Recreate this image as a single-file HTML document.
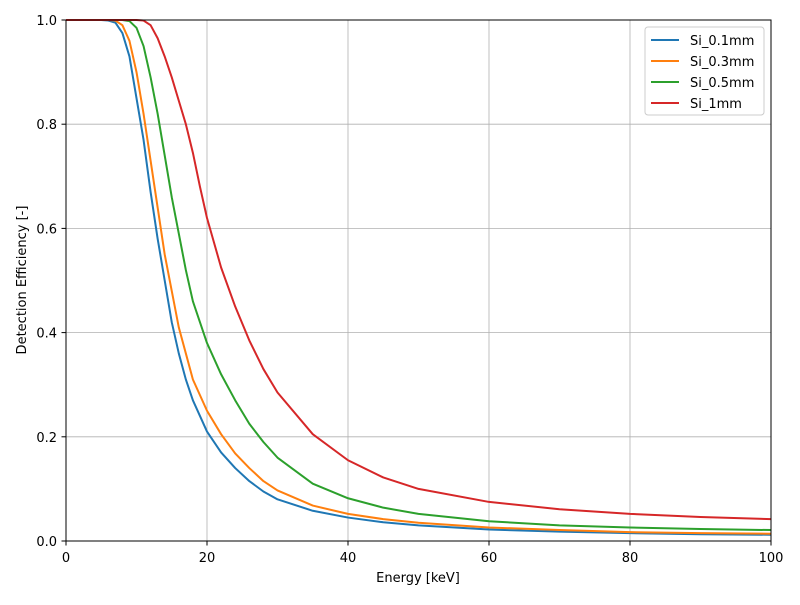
<!DOCTYPE html>
<html><head><meta charset="utf-8"><style>
body{margin:0;background:#fff;}
svg text{font-family:"DejaVu Sans","Liberation Sans",sans-serif;font-size:13px;fill:#000;}
</style></head><body>
<svg id="chart" width="800" height="600" xmlns="http://www.w3.org/2000/svg">
<rect width="800" height="600" fill="#fff"/>
<g id="grid"></g>
<g id="series"></g>
<rect x="66" y="20" width="705" height="521" fill="none" stroke="#000" stroke-width="1"/>
<g id="ticks"></g>
<text x="418" y="582" text-anchor="middle">Energy [keV]</text>
<text transform="translate(26,280) rotate(-90)" text-anchor="middle">Detection Efficiency [-]</text>
<g id="legend"></g>
</svg>
<script>
const energies=[0,5,6,7,8,9,10,11,12,13,14,15,16,17,18,19,20,22,24,26,28,30,35,40,45,50,60,70,80,90,100];
const si01=[1,1,0.999,0.995,0.975,0.93,0.85,0.77,0.67,0.58,0.5,0.42,0.36,0.31,0.27,0.24,0.21,0.17,0.14,0.115,0.095,0.08,0.058,0.045,0.036,0.03,0.022,0.018,0.015,0.013,0.012];
const si03=[1,1,1,0.999,0.99,0.96,0.9,0.82,0.73,0.64,0.55,0.48,0.41,0.36,0.31,0.28,0.25,0.205,0.168,0.14,0.115,0.097,0.068,0.052,0.042,0.035,0.026,0.021,0.017,0.015,0.014];
const si05=[1,1,1,1,1,0.998,0.985,0.95,0.89,0.82,0.74,0.66,0.59,0.52,0.46,0.42,0.38,0.32,0.27,0.225,0.19,0.16,0.11,0.082,0.064,0.052,0.038,0.03,0.026,0.023,0.021];
const si1=[1,1,1,1,1,1,1,0.999,0.99,0.965,0.93,0.89,0.845,0.8,0.745,0.68,0.62,0.525,0.45,0.385,0.33,0.285,0.205,0.155,0.122,0.1,0.075,0.061,0.052,0.046,0.042];
const seriesNames=["Si_0.1mm","Si_0.3mm","Si_0.5mm","Si_1mm"];
const xTicks=[0,20,40,60,80,100];
const yTicks=[0.0,0.2,0.4,0.6,0.8,1.0];
const colors=["#1f77b4","#ff7f0e","#2ca02c","#d62728"];
const NS="http://www.w3.org/2000/svg";
const X=v=>66+v/100*705, Y=v=>541-v*521;
function mk(tag,attrs,parent){const e=document.createElementNS(NS,tag);for(const k in attrs)e.setAttribute(k,attrs[k]);parent.appendChild(e);return e;}
const grid=document.getElementById('grid'),ticks=document.getElementById('ticks');
xTicks.forEach(t=>{
 const g=mk('line',{x1:X(t),x2:X(t),y1:20,y2:541,stroke:'#b0b0b0','stroke-width':0.8},grid);
 
 
 const tk=mk('line',{x1:X(t),x2:X(t),y1:541,y2:545.5,stroke:'#000'},ticks);
 
 
 const tx=mk('text',{x:X(t),y:562,'text-anchor':'middle'},ticks);tx.textContent=t;
 
 
});
yTicks.forEach(t=>{
 const g=mk('line',{x1:66,x2:771,y1:Y(t),y2:Y(t),stroke:'#b0b0b0','stroke-width':0.8},grid);
 
 
 const tk=mk('line',{x1:61.5,x2:66,y1:Y(t),y2:Y(t),stroke:'#000'},ticks);
 
 
 const tx=mk('text',{x:57,y:Y(t)+5,'text-anchor':'end'},ticks);tx.textContent=t.toFixed(1);
 
 
});
const ser=document.getElementById('series');
[si01,si03,si05,si1].forEach((d,i)=>{
 const p=mk('polyline',{points:energies.map((e,j)=>X(e)+','+Y(d[j])).join(' '),fill:'none',stroke:colors[i],'stroke-width':2,'stroke-linejoin':'round'},ser);
 
 
});
const lg=document.getElementById('legend');
const box=mk('rect',{x:645,y:27,width:119,height:88,rx:3,fill:'#fff',stroke:'#ccc','fill-opacity':0.8},lg);


seriesNames.forEach((n,i)=>{
 const y=40+i*21;
 const l=mk('line',{x1:651,x2:679,y1:y,y2:y,stroke:colors[i],'stroke-width':2},lg);
 
 
 const t=mk('text',{x:690,y:y+5},lg);t.textContent=n;
 
 
});
</script>
</body></html>
